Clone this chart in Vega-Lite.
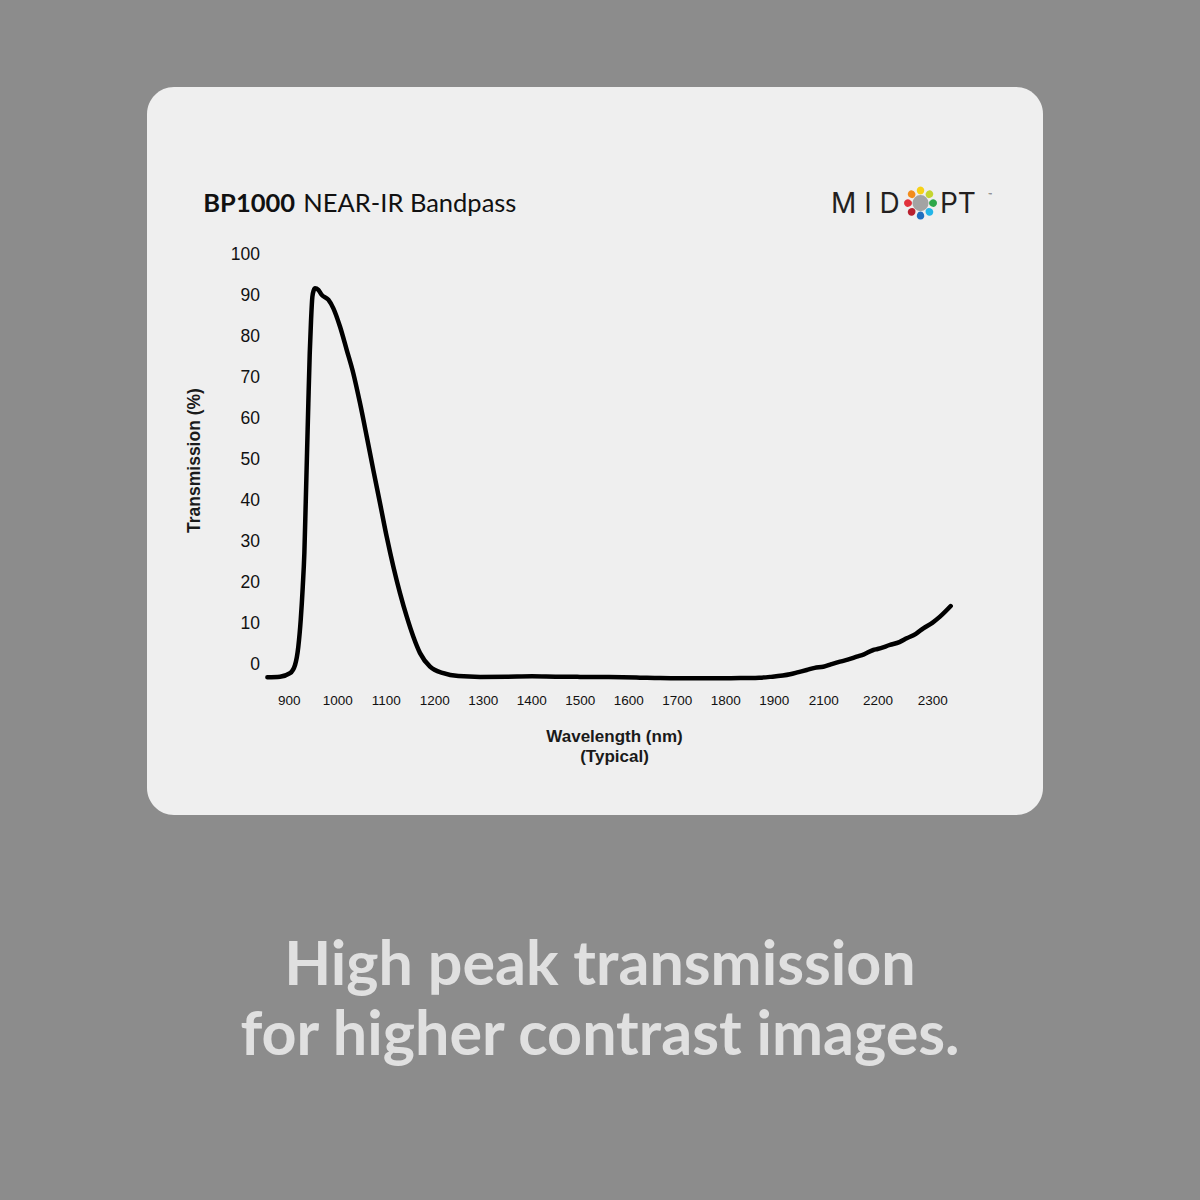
{
  "$schema": "https://vega.github.io/schema/vega-lite/v6.json",
  "width": 896,
  "height": 728,
  "autosize": {"type": "none"},
  "padding": {"left": 147, "top": 87, "right": 157, "bottom": 385},
  "background": "#8c8c8c",
  "title": {
    "text": ["High peak transmission", "for higher contrast images."],
    "orient": "bottom",
    "anchor": "middle",
    "frame": "group",
    "offset": 121.5,
    "dx": 5,
    "font": "Lato",
    "fontSize": 61,
    "fontWeight": "bold",
    "color": "#e0e0e0",
    "lineHeight": 70
  },
  "config": {
    "view": {"fill": "#efefef", "stroke": null, "cornerRadius": 27}
  },
  "data": {
    "values": [
      {"nm": 856, "t": -3.2}, {"nm": 882, "t": -3.05}, {"nm": 902.7, "t": -2.2},
      {"nm": 913, "t": -0.2}, {"nm": 919.8, "t": 4.3}, {"nm": 924.7, "t": 10.8},
      {"nm": 928.9, "t": 18.9}, {"nm": 932.2, "t": 27.1}, {"nm": 935, "t": 39.3},
      {"nm": 937.7, "t": 51.5}, {"nm": 940.4, "t": 63.7}, {"nm": 943.3, "t": 75.9},
      {"nm": 946, "t": 84.0}, {"nm": 948.7, "t": 89.7}, {"nm": 951.5, "t": 91.3},
      {"nm": 954.2, "t": 91.8}, {"nm": 961, "t": 91.4}, {"nm": 968, "t": 90.2},
      {"nm": 981.6, "t": 89.0}, {"nm": 992, "t": 86.9}, {"nm": 1005.8, "t": 82.4},
      {"nm": 1019.6, "t": 76.7}, {"nm": 1033.2, "t": 71.0}, {"nm": 1047, "t": 63.7},
      {"nm": 1060.8, "t": 55.6}, {"nm": 1074.4, "t": 47.4}, {"nm": 1088.2, "t": 39.3},
      {"nm": 1102, "t": 31.1}, {"nm": 1115.7, "t": 23.8}, {"nm": 1129.5, "t": 17.3},
      {"nm": 1143.3, "t": 11.6}, {"nm": 1156.9, "t": 6.7}, {"nm": 1170.7, "t": 2.7},
      {"nm": 1191.3, "t": -0.6}, {"nm": 1218.8, "t": -2.2}, {"nm": 1249.7, "t": -2.9},
      {"nm": 1294.4, "t": -3.1}, {"nm": 1350, "t": -3.05}, {"nm": 1401.6, "t": -2.95},
      {"nm": 1450, "t": -3.05}, {"nm": 1500.6, "t": -3.1}, {"nm": 1560, "t": -3.15},
      {"nm": 1624.3, "t": -3.3}, {"nm": 1665.6, "t": -3.4}, {"nm": 1700, "t": -3.42},
      {"nm": 1748, "t": -3.44}, {"nm": 1790, "t": -3.42}, {"nm": 1830.5, "t": -3.4},
      {"nm": 1870, "t": -3.3}, {"nm": 1892.2, "t": -3.1}, {"nm": 1965.5, "t": -2.47},
      {"nm": 2000, "t": -1.93}, {"nm": 2032.9, "t": -1.42}, {"nm": 2065, "t": -0.9},
      {"nm": 2100, "t": -0.61}, {"nm": 2115, "t": 0.0}, {"nm": 2130.8, "t": 0.61},
      {"nm": 2145, "t": 1.1}, {"nm": 2161.6, "t": 1.83}, {"nm": 2175, "t": 2.4},
      {"nm": 2192.3, "t": 3.47}, {"nm": 2200, "t": 3.7}, {"nm": 2222.8, "t": 4.69},
      {"nm": 2240, "t": 5.4}, {"nm": 2253.3, "t": 6.32}, {"nm": 2270, "t": 7.4},
      {"nm": 2283.6, "t": 8.77}, {"nm": 2300, "t": 10.1}, {"nm": 2314, "t": 11.6},
      {"nm": 2333.6, "t": 14.2}
    ]
  },
  "layer": [
    {
      "mark": {"type": "line", "color": "#000000", "strokeWidth": 4.5, "interpolate": "monotone", "strokeCap": "round", "strokeJoin": "round"},
      "encoding": {
        "x": {
          "field": "nm", "type": "quantitative",
          "scale": {"type": "linear", "domain": [607.8, 1900, 2100, 2200, 2300, 2502], "range": [0, 626.8, 676.3, 730.5, 785.3, 896], "nice": false, "zero": false},
          "axis": {
            "values": [900, 1000, 1100, 1200, 1300, 1400, 1500, 1600, 1700, 1800, 1900, 2100, 2200, 2300],
            "format": "d",
            "orient": "bottom",
            "offset": -124,
            "domain": false, "ticks": false, "tickSize": 0, "grid": false,
            "labelPadding": 2.5, "labelBaseline": "top", "labelOverlap": false, "labelFlush": false, "labelBound": false,
            "labelFont": "Liberation Sans", "labelFontSize": 13.5, "labelColor": "#111111",
            "title": ["Wavelength (nm)", "(Typical)"],
            "titleFont": "Liberation Sans", "titleFontSize": 17, "titleFontWeight": "bold", "titleColor": "#1a1a1a",
            "titleX": 467, "titleY": 50, "titleAlign": "center", "titleBaseline": "alphabetic", "titleLineHeight": 20.5
          }
        },
        "y": {
          "field": "t", "type": "quantitative",
          "scale": {"domain": [-36.83, 140.95], "nice": false, "zero": false},
          "axis": {
            "values": [0, 10, 20, 30, 40, 50, 60, 70, 80, 90, 100],
            "orient": "left",
            "offset": -112.5,
            "domain": false, "ticks": false, "tickSize": 0, "grid": false,
            "labelPadding": 0, "labelOverlap": false, "labelFlush": false, "labelBound": false,
            "labelFont": "Liberation Sans", "labelFontSize": 17.5, "labelColor": "#111111",
            "title": "Transmission (%)",
            "titleFont": "Liberation Sans", "titleFontSize": 17.5, "titleFontWeight": "bold", "titleColor": "#1a1a1a",
            "titleX": -65.5, "titleY": 373, "titleAngle": 270, "titleAlign": "center", "titleBaseline": "middle"
          }
        }
      }
    },
    {
      "data": {"values": [{"label": "BP1000"}]},
      "mark": {"type": "text", "align": "left", "baseline": "alphabetic", "font": "Lato", "fontSize": 25.5, "fontWeight": "bold", "color": "#111111"},
      "encoding": {
        "x": {"datum": 723.9, "type": "quantitative"},
        "y": {"datum": 110.35, "type": "quantitative"},
        "text": {"field": "label"}
      }
    },
    {
      "data": {"values": [{"label": "NEAR-IR Bandpass"}]},
      "mark": {"type": "text", "align": "left", "baseline": "alphabetic", "font": "Lato", "fontSize": 25.5, "fontWeight": "normal", "color": "#111111"},
      "encoding": {
        "x": {"datum": 930.1, "type": "quantitative"},
        "y": {"datum": 110.35, "type": "quantitative"},
        "text": {"field": "label"}
      }
    },
    {
      "data": {"values": [{"label": "M I D"}]},
      "mark": {"type": "text", "align": "left", "baseline": "alphabetic", "font": "Inter", "fontSize": 28, "fontWeight": "normal", "color": "#231f20"},
      "encoding": {
        "x": {"datum": 2114.2, "type": "quantitative"},
        "y": {"datum": 110.1, "type": "quantitative"},
        "text": {"field": "label"}
      }
    },
    {
      "data": {"values": [{"label": "PT"}]},
      "mark": {"type": "text", "align": "left", "baseline": "alphabetic", "font": "Inter", "fontSize": 28, "fontWeight": "normal", "color": "#231f20"},
      "encoding": {
        "x": {"datum": 2314, "type": "quantitative"},
        "y": {"datum": 110.1, "type": "quantitative"},
        "text": {"field": "label"}
      }
    },
    {
      "data": {"values": [{"label": "™"}]},
      "mark": {"type": "text", "align": "left", "baseline": "middle", "font": "Inter", "fontSize": 6, "color": "#231f20"},
      "encoding": {
        "x": {"datum": 2402.2, "type": "quantitative"},
        "y": {"datum": 114.3, "type": "quantitative"},
        "text": {"field": "label"}
      }
    },
    {
      "data": {"values": [
        {"seg": "s1", "v": 1}, {"seg": "s2", "v": 1}, {"seg": "s3", "v": 1}, {"seg": "s4", "v": 1},
        {"seg": "s5", "v": 1}, {"seg": "s6", "v": 1}, {"seg": "s7", "v": 1}, {"seg": "s8", "v": 1}
      ]},
      "mark": {"type": "arc", "innerRadius": 8.5, "outerRadius": 16.5, "padAngle": 0.12, "cornerRadius": 4},
      "encoding": {
        "x": {"datum": 2278.5, "type": "quantitative"},
        "y": {"datum": 112.6, "type": "quantitative"},
        "theta": {"field": "v", "type": "quantitative", "stack": true, "scale": {"range": [-0.3927, 5.8905]}},
        "color": {
          "field": "seg", "type": "nominal", "legend": null,
          "scale": {"domain": ["s1", "s2", "s3", "s4", "s5", "s6", "s7", "s8"], "range": ["#f7d117", "#c5d52f", "#2ea84a", "#23b5e8", "#1f6ebf", "#b8202f", "#e2313b", "#f28c1c"]}
        }
      }
    },
    {
      "data": {"values": [{"c": "center"}]},
      "mark": {"type": "point", "shape": "circle", "filled": true, "size": 260, "color": "#a3a3a3", "opacity": 1},
      "encoding": {
        "x": {"datum": 2278.5, "type": "quantitative"},
        "y": {"datum": 112.6, "type": "quantitative"}
      }
    }
  ]
}
